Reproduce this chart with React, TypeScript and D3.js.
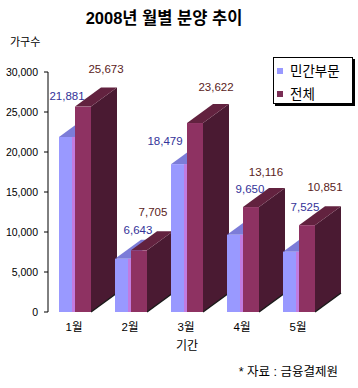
import React from "react";
import * as d3 from "d3";

// ---- data ----
const categories = ["1월", "2월", "3월", "4월", "5월"];
const seriesNames = ["민간부문", "전체"];
const privateValues = [21881, 6643, 18479, 9650, 7525];
const totalValues = [25673, 7705, 23622, 13116, 10851];
const yTicks = [0, 5000, 10000, 15000, 20000, 25000, 30000];

// ---- layout (label nudges relative to the bar's front-top centre) ----
const privateLabelNudge = [[0, -41], [15, -29], [-14, -23], [15, -46], [14, -45]];
const totalLabelNudge = [[23, -38], [14, -38], [21, -36], [15, -35], [18, -38]];

const W = 358, H = 388;
const DX = 26, DY = -19;
const BAR_W = 16;
const KFONT = "'Liberation Sans', Arial, 'Noto Sans CJK KR', sans-serif";

const colors = {
  aFront: "#9999FF",
  aTop: "#7C7CD8",
  aEdge: "#C27BE0",
  bFront: "#8E3262",
  bTop: "#62223F",
  bSide: "#4A1A32",
  aText: "#333399",
  bText: "#5A2222",
};

export default function App() {
  const y = d3.scaleLinear().domain([0, 30000]).range([312, 72]);
  const x = d3.scaleBand<string>().domain(categories).range([47, 327]).padding(0);
  const fmt = d3.format(",");
  const base = y(0);

  const pts = (arr: number[][]) => arr.map((p) => p.join(",")).join(" ");

  return (
    <div style={{ position: "absolute", left: 0, top: 0 }}>
      <svg width={W} height={H} style={{ display: "block", background: "#fff" }}>
        {/* title */}
        <text x={164} y={24} textAnchor="middle" fontFamily={KFONT} fontWeight="bold" fontSize={16.5} fill="#000">
          2008년 월별 분양 추이
        </text>
        <text x={10} y={46} fontFamily={KFONT} fontSize={11} fill="#000">가구수</text>

        {/* y axis */}
        <line x1={48} x2={48} y1={y(30000)} y2={y(0)} stroke="#000" strokeWidth={1} />
        {yTicks.map((t) => (
          <g key={t}>
            <line x1={44} x2={48} y1={y(t)} y2={y(t)} stroke="#000" />
            <text x={38} y={y(t)} dy="0.35em" textAnchor="end" fontFamily={KFONT} fontSize={10.5} fill="#000">
              {fmt(t)}
            </text>
          </g>
        ))}

        {/* bars */}
        {categories.map((c, i) => {
          const cx = (x(c) as number) + x.bandwidth() / 2;
          const ya = y(privateValues[i]);
          const yb = y(totalValues[i]);
          const a0 = cx - BAR_W, a1 = cx;
          const b0 = cx, b1 = cx + BAR_W;
          return (
            <g key={c}>
              {/* private series */}
              <polygon points={pts([[a0, ya], [a1, ya], [a1 + DX, ya + DY], [a0 + DX, ya + DY]])} fill={colors.aTop} />
              <rect x={a0} y={ya} width={BAR_W} height={base - ya} fill={colors.aFront} />
              <rect x={a1 - 3} y={ya} width={3} height={base - ya} fill={colors.aEdge} />
              {/* total series */}
              <polygon points={pts([[b1, yb], [b1 + DX, yb + DY], [b1 + DX, base + DY], [b1, base]])} fill={colors.bSide} />
              <line x1={b1} y1={base} x2={b1 + DX} y2={base + DY} stroke="#1a1a1a" strokeWidth={1.5} />
              <polygon points={pts([[b0, yb], [b1, yb], [b1 + DX, yb + DY], [b0 + DX, yb + DY]])} fill={colors.bTop} />
              <rect x={b0} y={yb} width={BAR_W} height={base - yb} fill={colors.bFront} />
            </g>
          );
        })}

        {/* data labels */}
        {categories.map((c, i) => {
          const cx = (x(c) as number) + x.bandwidth() / 2;
          const ya = y(privateValues[i]);
          const yb = y(totalValues[i]);
          return (
            <g key={"l" + c} fontFamily={KFONT} fontSize={11.5}>
              <text x={cx - BAR_W / 2 + privateLabelNudge[i][0]} y={ya + privateLabelNudge[i][1]} dy="0.35em" textAnchor="middle" fill={colors.aText}>
                {fmt(privateValues[i])}
              </text>
              <text x={cx + BAR_W / 2 + totalLabelNudge[i][0]} y={yb + totalLabelNudge[i][1]} dy="0.35em" textAnchor="middle" fill={colors.bText}>
                {fmt(totalValues[i])}
              </text>
            </g>
          );
        })}

        {/* category labels */}
        {categories.map((c) => (
          <text key={"c" + c} x={(x(c) as number) + x.bandwidth() / 2 - 1} y={331} textAnchor="middle" fontFamily={KFONT} fontSize={11.5} fill="#000">
            {c}
          </text>
        ))}
        <text x={187} y={350} textAnchor="middle" fontFamily={KFONT} fontSize={12} fill="#000">기간</text>
        <text x={338} y={376} textAnchor="end" fontFamily={KFONT} fontSize={12.5} fill="#000">* 자료 : 금융결제원</text>

        {/* legend */}
        <rect x={275} y={59} width={80} height={47} fill="#000" />
        <rect x={273.5} y={57.5} width={79} height={46} fill="#fff" stroke="#000" strokeWidth={1} />
        {seriesNames.map((s, i) => (
          <g key={s}>
            <rect x={277} y={68 + i * 23} width={6} height={6} fill={i === 0 ? colors.aFront : "#7A2E55"} />
            <text x={290} y={71 + i * 23} dy="0.35em" fontFamily={KFONT} fontSize={13.5} fill="#000">{s}</text>
          </g>
        ))}
      </svg>
    </div>
  );
}
